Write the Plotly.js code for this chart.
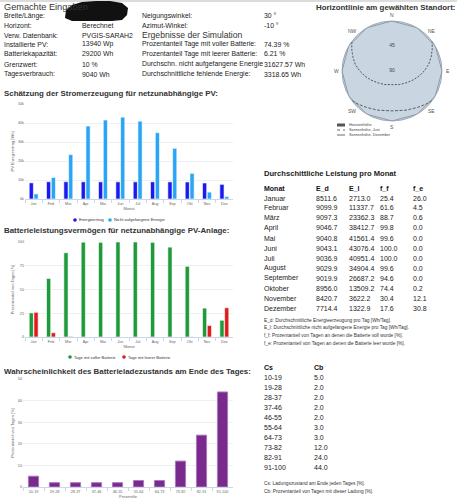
<!DOCTYPE html>
<html><head><meta charset="utf-8">
<script src="https://cdn.plot.ly/plotly-3.0.1.min.js"></script>
<style>html,body{margin:0;padding:0;background:#fff;}#chart{width:457px;height:500px;}</style>
</head><body><div id="chart"></div>
<script>
// ---------- data ----------
const monthsShort = ['Jan','Feb','Mar','Apr','Mai','Jun','Jul','Aug','Sep','Okt','Nov','Dez'];
const monthsLong = ['Januar','Februar','März','April','Mai','Juni','Juli','August','September','Oktober','November','Dezember'];
const E_d = [8511.6, 9099.9, 9097.3, 9046.7, 9040.8, 9043.1, 9036.9, 9029.9, 9019.9, 8956.0, 8420.7, 7714.4];
const E_l = [2713.0, 11337.7, 23362.3, 38412.7, 41561.4, 43076.4, 40951.4, 34904.4, 26687.2, 13509.2, 3622.2, 1322.9];
const f_f = [25.4, 61.6, 88.7, 99.8, 99.6, 100.0, 100.0, 99.6, 94.6, 74.4, 30.4, 17.6];
const f_e = [26.0, 4.5, 0.6, 0.0, 0.0, 0.0, 0.0, 0.0, 0.0, 0.2, 12.1, 30.8];
const csLabels = ['10-19','19-28','28-37','37-46','46-55','55-64','64-73','73-82','82-91','91-100'];
const cbValues = [5.0, 2.0, 2.0, 2.0, 2.0, 3.0, 3.0, 12.0, 24.0, 44.0];
const inputLabels = ['Breite/Länge:','Horizont:','Verw. Datenbank:','Installierte PV:','Batteriekapazität:','Grenzwert:','Tagesverbrauch:'];
const inputValues = ['','Berechnet','PVGIS-SARAH2','13940 Wp','29200 Wh','10 %','9040 Wh'];
const rightLabels = ['Neigungswinkel:','Azimut-Winkel:','','Prozentanteil Tage mit voller Batterie:','Prozentanteil Tage mit leerer Batterie:','Durchschn. nicht aufgefangene Energie','Durchschnittliche fehlende Energie:'];
const rightValues = ['30 °','-10 °','','74.39 %','6.21 %','31627.57 Wh','3318.65 Wh'];
const notesMonth = ['E_d: Durchschnittliche Energieerzeugung pro Tag [Wh/Tag].','E_l: Durchschnittliche nicht aufgefangene Energie pro Tag [Wh/Tag].','f_f: Prozentanteil von Tagen an denen die Batterie voll wurde [%].','f_e: Prozentanteil von Tagen an denen die Batterie leer wurde [%].'];
const notesCs = ['Cs: Ladungszustand am Ende jeden Tages [%].','Cb: Prozentanteil von Tagen mit dieser Ladung [%].'];
const compassLabels = ['N','NE','E','SE','S','SW','W','NW'];
const compassAngles = [0, 45, 90, 135, 180, 225, 270, 315];
const radialLabels = ['45', '90'];      // altitude labels (90 = zenith at centre)
const radialAlt = [45, 90];
// sun paths & horizon (azimuth from north, altitude in degrees)
const juneAz  = [53.5, 62, 70, 80, 90, 100, 112, 128, 150, 180, 210, 232, 248, 260, 270, 280, 290, 298, 306.5];
const juneAlt = [0, 8, 15, 23, 32, 40, 48, 56, 62, 65.4, 62, 56, 48, 40, 32, 23, 15, 8, 0];
const decAz  = [126.5, 135, 145, 160, 180, 200, 215, 225, 233.5];
const decAlt = [0, 5, 10, 15, 18.2, 15, 10, 5, 0];
const horAz  = [0, 30, 60, 90, 120, 150, 180, 210, 240, 270, 300, 330, 360];
const horAlt = [0, 0, 0, 0, 0, 0, 0, 0, 0, 0, 0, 0, 0];

// ---------- helpers ----------
const W = 457, H = 500;
const X = p => p / W, Y = p => 1 - p / H;
const FONT = "Liberation Sans, Arial, sans-serif";
const ann = [];
function T(text, px, py, size, color, anchor) {
  ann.push({text: text, x: X(px), y: Y(py), xref: 'paper', yref: 'paper',
    xanchor: anchor || 'left', yanchor: 'middle', showarrow: false, borderpad: 0,
    font: {family: FONT, size: size, color: color || '#222'}});
}
const shapes = [];
function dot(px, py, r, color) {
  shapes.push({type: 'circle', xref: 'paper', yref: 'paper', x0: X(px - r), x1: X(px + r), y0: Y(py + r), y1: Y(py - r),
    fillcolor: color, line: {width: 0}});
}

// top strip
shapes.push({type: 'rect', xref: 'paper', yref: 'paper', x0: 0, x1: 1, y0: Y(2), y1: 1, fillcolor: '#dcdcdc', line: {width: 0}});

// ---------- input section ----------
const RS = 6.9;   // row font size
T('Gemachte Eingaben', 3, 6.5, 9.2, '#333');
const rowY = [15.5, 25, 35, 44.5, 54, 64, 74];
inputLabels.forEach((t, i) => T(t, 3, rowY[i], RS));
inputValues.forEach((t, i) => { if (t) T(t, 81, rowY[i], RS); });
rightLabels.forEach((t, i) => { if (t) T(t, 141, rowY[i], RS); });
rightValues.forEach((t, i) => { if (t) T(t, 263, rowY[i], RS); });
T('Ergebnisse der Simulation', 141, 35, 8.6, '#333');
// redaction blob
const blob = [[66,10],[72,5],[82,2],[96,1],[110,1],[122,3],[128,8],[127,15],[122,20],[112,21],[98,21],[84,21],[72,21],[65,18]];
shapes.push({type: 'path', xref: 'paper', yref: 'paper', fillcolor: '#111', line: {width: 0},
  path: 'M' + blob.map(p => X(p[0]) + ',' + Y(p[1])).join(' L') + ' Z'});

// ---------- titles ----------
const TS = 7.9;
T('<b>Schätzung der Stromerzeugung für netzunabhängige PV:</b>', 3, 94, TS, '#333');
T('<b>Batterieleistungsvermögen für netzunabhängige PV-Anlage:</b>', 3, 231, TS, '#333');
T('<b>Wahrscheinlichkeit des Batterieladezustands am Ende des Tages:</b>', 3, 371, TS, '#333');
T('<b>Horizontlinie am gewählten Standort:</b>', 315, 7, TS, '#333');
T('<b>Durchschittliche Leistung pro Monat</b>', 263, 173, 7.6, '#222');

// ---------- month table ----------
const CS = 7.0;
const colX = [263, 315, 348, 379, 412];
['Monat','E_d','E_l','f_f','f_e'].forEach((t, j) => T('<b>' + t + '</b>', colX[j], 188, CS, '#111'));
monthsLong.forEach((m, i) => {
  const y = 198 + i * 10;
  T(m, colX[0], y, CS);
  T(E_d[i].toFixed(1), colX[1], y, CS);
  T(E_l[i].toFixed(1), colX[2], y, CS);
  T(f_f[i].toFixed(1), colX[3], y, CS);
  T(f_e[i].toFixed(1), colX[4], y, CS);
});
notesMonth.forEach((t, i) => T(t, 263, 320 + i * 7.7, 4.8, '#333'));

// ---------- Cs table ----------
T('<b>Cs</b>', 263, 367.5, CS, '#111');
T('<b>Cb</b>', 313, 367.5, CS, '#111');
csLabels.forEach((c, i) => {
  T(c, 263, 377.5 + i * 10, CS);
  T(cbValues[i].toFixed(1), 313, 377.5 + i * 10, CS);
});
notesCs.forEach((t, i) => T(t, 263, 483 + i * 8, 4.8, '#333'));

// ---------- manual legends ----------
const LS = 4.1;
dot(75, 220, 1.8, '#1a1aee'); T('Energieertrag', 78, 220, LS, '#333');
dot(110, 220, 1.8, '#2aa5f5'); T('Nicht aufgefangene Energie', 113, 220, LS, '#333');
dot(70, 357, 1.8, '#1f9a3a'); T('Tage mit voller Batterie', 73, 357, LS, '#333');
dot(124, 357, 1.8, '#e01b1b'); T('Tage mit leerer Batterie', 127, 357, LS, '#333');
// polar legend
shapes.push({type: 'rect', xref: 'paper', yref: 'paper', x0: X(337), x1: X(345), y0: Y(126.5), y1: Y(123.5), fillcolor: '#555', line: {width: 0}});
shapes.push({type: 'line', xref: 'paper', yref: 'paper', x0: X(337), x1: X(345), y0: Y(130), y1: Y(130), line: {color: '#444', width: 0.8, dash: 'dot'}});
shapes.push({type: 'line', xref: 'paper', yref: 'paper', x0: X(337), x1: X(345), y0: Y(135), y1: Y(135), line: {color: '#444', width: 0.8, dash: 'dash'}});
T('Horizonthöhe', 348, 125, 3.8, '#444');
T('Sonnenhöhe, Juni', 348, 130, 3.8, '#444');
T('Sonnenhöhe, Dezember', 348, 135, 3.8, '#444');

// ---------- compass labels around the polar plot (centre 392,71; label radius 56) ----------
const PCX = 392, PCY = 71, PLR = 56;
compassLabels.forEach((t, i) => {
  const a = compassAngles[i] * Math.PI / 180;
  T(t, PCX + PLR * Math.sin(a), PCY - PLR * Math.cos(a), 5, '#555', 'center');
});

// ---------- traces ----------
const whiteLine = {color: '#ffffff', width: 0.6};
const PF = {family: FONT, size: 5, color: '#444'};
const traces = [
  {type: 'bar', x: monthsShort, y: E_d, xaxis: 'x', yaxis: 'y', name: 'Energieertrag', marker: {color: '#1a1aee', line: whiteLine}, showlegend: false},
  {type: 'bar', x: monthsShort, y: E_l, xaxis: 'x', yaxis: 'y', name: 'Nicht aufgefangene Energie', marker: {color: '#2aa5f5', line: whiteLine}, showlegend: false},
  {type: 'bar', x: monthsShort, y: f_f, xaxis: 'x2', yaxis: 'y2', name: 'Tage mit voller Batterie', marker: {color: '#1f9a3a', line: whiteLine}, showlegend: false},
  {type: 'bar', x: monthsShort, y: f_e, xaxis: 'x2', yaxis: 'y2', name: 'Tage mit leerer Batterie', marker: {color: '#e01b1b', line: whiteLine}, showlegend: false},
  {type: 'bar', x: csLabels, y: cbValues, xaxis: 'x3', yaxis: 'y3', name: 'Cb', marker: {color: '#7a2a8c', line: {color: '#a979c0', width: 1}}, showlegend: false},
  {type: 'scatterpolar', subplot: 'polar', theta: horAz, r: horAlt.map(a => 90 - a), mode: 'lines', line: {color: '#7d8b99', width: 0.8}, name: 'Horizonthöhe', showlegend: false},
  {type: 'scatterpolar', subplot: 'polar', theta: juneAz, r: juneAlt.map(a => 90 - a), mode: 'lines', line: {color: '#333', width: 0.8, dash: '2px,1.5px'}, name: 'Sonnenhöhe, Juni', showlegend: false},
  {type: 'scatterpolar', subplot: 'polar', theta: decAz, r: decAlt.map(a => 90 - a), mode: 'lines', line: {color: '#444', width: 0.8, dash: '3px,1.5px'}, name: 'Sonnenhöhe, Dezember', showlegend: false},
  {type: 'scatterpolar', subplot: 'polar', theta: [0, 0], r: radialAlt.map(a => 90 - a), mode: 'text', text: radialLabels, textfont: PF, cliponaxis: false, showlegend: false}
];

// ---------- axes ----------
const tickF = {family: FONT, size: 3.8, color: '#666'};
function xax(title) {
  return {type: 'category', showgrid: false, showline: true, linecolor: '#ccd6eb', linewidth: 1,
    ticks: 'outside', tickson: 'boundaries', ticklen: 2.5, tickcolor: '#ccd6eb', tickfont: tickF, tickangle: 0, fixedrange: true,
    title: {text: title, font: {family: FONT, size: 4.0, color: '#666'}, standoff: 1}};
}
function yax(top, bottom, range, vals, texts, title) {
  return {domain: [Y(bottom), Y(top)], range: range, tickmode: 'array', tickvals: vals, ticktext: texts, showgrid: true,
    gridcolor: '#e6e6e6', gridwidth: 0.6, zeroline: false, showline: false, ticks: '', tickfont: tickF, fixedrange: true,
    title: {text: title, font: {family: FONT, size: 4.0, color: '#666'}, standoff: 3}};
}
const layout = {
  width: W, height: H, margin: {l: 0, r: 0, t: 0, b: 0}, paper_bgcolor: '#fff', plot_bgcolor: 'rgba(0,0,0,0)',
  barmode: 'group', bargap: 0.45, bargroupgap: 0.12, showlegend: false, font: {family: FONT},
  xaxis: Object.assign(xax('Monat'), {domain: [X(25), X(233)], anchor: 'y'}),
  yaxis: Object.assign(yax(104, 199, [0, 50000], [0, 10000, 20000, 30000, 40000, 50000], ['0k','10k','20k','30k','40k','50k'], 'PV Energieertrag [Wh]'), {anchor: 'x'}),
  xaxis2: Object.assign(xax('Monat'), {domain: [X(25), X(233)], anchor: 'y2'}),
  yaxis2: Object.assign(yax(242, 337, [0, 100], [0, 25, 50, 75, 100], ['0','25','50','75','100'], 'Prozentanteil von Tagen [%]'), {anchor: 'x2'}),
  xaxis3: Object.assign(xax('Perzentile'), {domain: [X(23), X(233)], anchor: 'y3'}),
  yaxis3: Object.assign(yax(379, 487, [0, 50], [0, 10, 20, 30, 40, 50], ['0','10','20','30','40','50'], 'Prozentanteil von Tagen [%]'), {anchor: 'x3'}),
  polar: {
    domain: {x: [X(342), X(442)], y: [Y(121), Y(21)]},
    bgcolor: '#c9d5e0',
    angularaxis: {rotation: 90, direction: 'clockwise', showline: true, linecolor: '#8d9cab', linewidth: 0.8,
      showgrid: false, ticks: '', showticklabels: false},
    radialaxis: {range: [0, 90], visible: false}
  },
  shapes: shapes,
  annotations: ann
};
Plotly.newPlot('chart', traces, layout, {displayModeBar: false, staticPlot: true});
</script></body></html>
